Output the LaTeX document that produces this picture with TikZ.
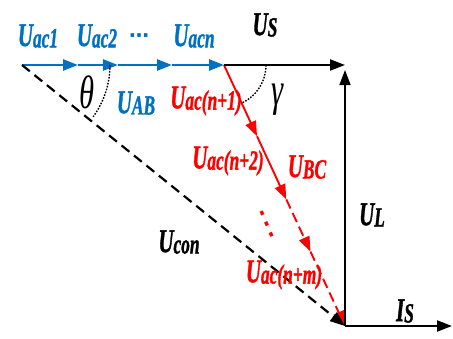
\documentclass[tikz,border=0pt]{standalone}
\usepackage{fontspec}
\setmainfont{Liberation Serif}[BoldItalicFeatures={FakeBold=1.5}]
\newfontfamily\symfont{DejaVu Sans}
\usepackage{graphicx}
\usepackage{tikz}
\usetikzlibrary{arrows.meta, calc}
\definecolor{vecblue}{RGB}{0,112,192}
\definecolor{vecred}{RGB}{255,0,0}
\newcommand{\vname}[2]{\scalebox{0.87}[1.38]{\fontsize{24}{24}\selectfont\bfseries\itshape #1\fontsize{20}{20}\selectfont\raisebox{-1pt}{#2}}}
\newcommand{\angname}[1]{\scalebox{0.9}[1.38]{\fontsize{34}{34}\selectfont\itshape #1}}
\tikzset{
  vec/.style={line width=2.2pt, -{Triangle[length=15pt,width=11pt]}},
  bluevec/.style={vec, draw=vecblue, line width=2.6pt},
  redvec/.style={vec, draw=vecred, line width=1.9pt},
  blkvec/.style={vec, draw=black},
  reddash/.style={redvec, dash pattern=on 10pt off 5pt},
  lbl/.style={inner sep=0pt},
  angarc/.style={draw=black, line width=1.4pt, dash pattern=on 1.6pt off 1.4pt}
}

\begin{document}
\begin{tikzpicture}[x=1pt, y=-1pt]
  \useasboundingbox (0,0) rectangle (453,338);

  %% corner points
  \coordinate (A) at (22,65);
  \coordinate (B) at (224,65);
  \coordinate (O) at (345,326);
  \coordinate (Stip) at (345,65);
  \coordinate (Ltip) at (345,70);
  \coordinate (Itip) at (452,326);

  %% blue chain
  \coordinate (b1) at (78,65);
  \coordinate (b2) at (118,65);
  \coordinate (b3) at (172,65);
  \draw[bluevec] (A) -- (b1);
  \draw[bluevec] (b1) -- (b2);
  \draw[bluevec] (b2) -- (b3);
  \draw[bluevec] (b3) -- (B);

  %% red chain
  \coordinate (r1) at ($(B)!0.273!(O)$);
  \coordinate (r2) at ($(B)!0.515!(O)$);
  \coordinate (r3) at ($(B)!0.715!(O)$);
  \draw[redvec] (B) -- (r1);
  \draw[redvec] (r1) -- (r2);
  \draw[reddash] (r2) -- (r3);
  \draw[reddash] (r3) -- (O);

  %% black vectors
  \draw[blkvec] (B) -- (Stip);
  \draw[blkvec, line width=1.5pt] (O) -- (Ltip);
  \draw[blkvec] (O) -- (Itip);
  \draw[blkvec, dash pattern=on 10pt off 6pt] (A) -- (O);

  %% angles
  \draw[angarc] ($(A)+(88,0)$) arc[start angle=0, end angle=36, radius=88];
  \draw[angarc] ($(B)+(42,0)$) arc[start angle=0, end angle=65, radius=42];

  %% labels
  \node[lbl, text=vecblue] (lac1) at (38,36) {\vname{U}{ac1}};
  \node[lbl, text=vecblue] (lac2) at (97,36) {\vname{U}{ac2}};
  \node[lbl, text=vecblue] (ldots) at (139,38) {\symfont\fontsize{20}{20}\selectfont\bfseries ⋯};
  \node[lbl, text=vecblue] (lacn) at (194,36) {\vname{U}{acn}};
  \node[lbl] (lus) at (265,25) {\vname{U}{S}};
  \node[lbl] (ltheta) at (87,92) {\angname{θ}};
  \node[lbl, text=vecblue] (lab) at (136,103) {\vname{U}{AB}};
  \node[lbl, text=vecred] (lacn1) at (206,101) {\vname{U}{ac(n+1)}};
  \node[lbl] (lgamma) at (278,100) {\angname{γ}};
  \node[lbl, text=vecred] (lacn2) at (228,161) {\vname{U}{ac(n+2)}};
  \node[lbl, text=vecred] (lbc) at (307,167) {\vname{U}{BC}};
  \node[lbl, text=vecred, rotate=23] (lvdots) at (267,224) {\symfont\fontsize{34}{34}\selectfont ⋮};
  \node[lbl] (lul) at (372,215) {\vname{U}{L}};
  \node[lbl] (lcon) at (179,242) {\vname{U}{con}};
  \node[lbl, text=vecred] (lacnm) at (284,275) {\vname{U}{ac(n+m)}};
  \node[lbl] (lis) at (405,311) {\vname{I}{S}};
\end{tikzpicture}
\end{document}
